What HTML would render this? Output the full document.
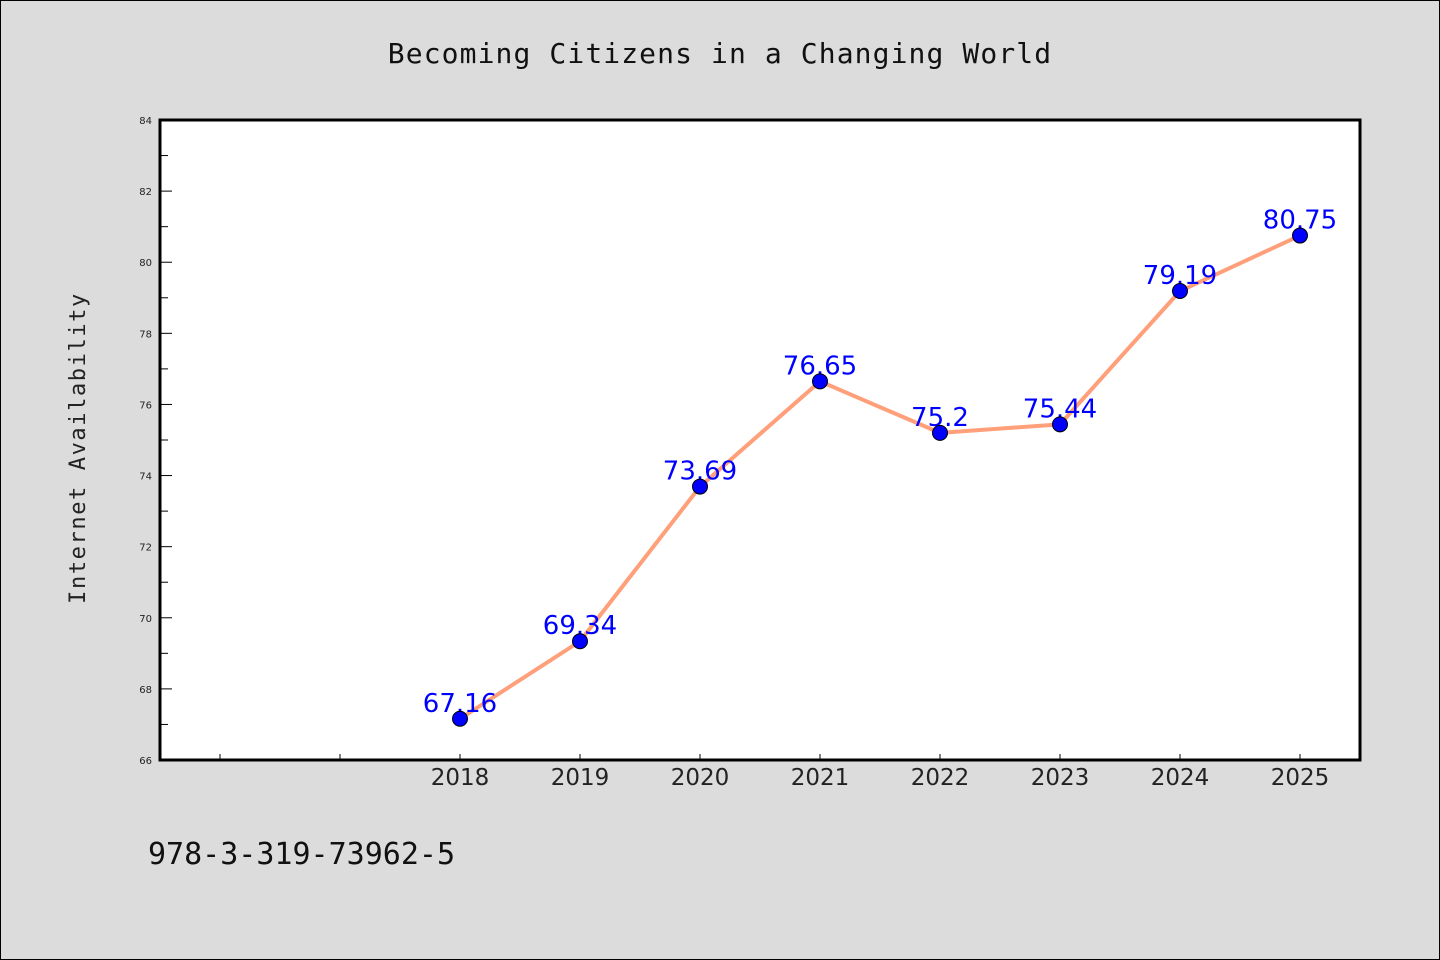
<!DOCTYPE html>
<html><head><meta charset="utf-8"><style>
html,body{margin:0;padding:0;background:#dcdcdc;}
svg{display:block;}
</style></head><body>
<svg id="c" width="1440" height="960" xmlns="http://www.w3.org/2000/svg">
<rect x="0.5" y="0.5" width="1439" height="959" fill="#dcdcdc" stroke="#000" stroke-width="1"/>
<text x="720" y="63" text-anchor="middle" font-family="'WenQuanYi Zen Hei','DejaVu Sans Mono',monospace" font-size="28" letter-spacing="1.1" fill="#111">Becoming Citizens in a Changing World</text>
<rect x="160" y="120" width="1200" height="640" fill="#fff"/>
<g id="axes"></g>
<g id="marks"></g>
<rect x="160" y="120" width="1200" height="640" fill="none" stroke="#000" stroke-width="3"/>
<text transform="translate(85,448) rotate(-90)" text-anchor="middle" font-family="'WenQuanYi Zen Hei','DejaVu Sans Mono',monospace" font-size="22" letter-spacing="1.6" fill="#222">Internet Availability</text>
<text x="148" y="864" font-family="'WenQuanYi Zen Hei','DejaVu Sans Mono',monospace" font-size="30" fill="#111">978-3-319-73962-5</text>
</svg>
<script>
const categories = ["", "", "2018", "2019", "2020", "2021", "2022", "2023", "2024", "2025"];
const values = [null, null, 67.16, 69.34, 73.69, 76.65, 75.2, 75.44, 79.19, 80.75];
const yTicks = [66, 68, 70, 72, 74, 76, 78, 80, 82, 84];
const yMin = 66, yMax = 84;
const L = 160, R = 1360, T = 120, B = 760;
const NS = "http://www.w3.org/2000/svg";
const slot = (R - L) / categories.length;
const xs = i => L + slot * (i + 0.5);
const ys = v => B - (v - yMin) / (yMax - yMin) * (B - T);
function mk(tag, attrs, parent) {
  const e = document.createElementNS(NS, tag);
  for (const k in attrs) e.setAttribute(k, attrs[k]);
  parent.appendChild(e); return e;
}
const axes = document.getElementById('axes');
const marks = document.getElementById('marks');
yTicks.forEach((t, i) => {
  const y = ys(t);
  const ln = mk('line', {x1: L, x2: L + 12, y1: y, y2: y, stroke: '#000', 'stroke-width': 1}, axes);
  
  
  const tx = mk('text', {x: L - 8, y: y + 4, 'text-anchor': 'end', 'font-family': "'DejaVu Sans',sans-serif", 'font-size': 10, fill: '#222'}, axes);
  tx.textContent = t;
  
  
  if (i < yTicks.length - 1) {
    const ym = ys(t + (yTicks[i + 1] - t) / 2);
    const mn = mk('line', {x1: L, x2: L + 8, y1: ym, y2: ym, stroke: '#000', 'stroke-width': 1}, axes);
    
    
  }
});
categories.forEach((c, i) => {
  const x = xs(i);
  const ln = mk('line', {x1: x, x2: x, y1: B, y2: B - 6, stroke: '#000', 'stroke-width': 1}, axes);
  
  
  if (c) {
    const tx = mk('text', {x: x, y: B + 25, 'text-anchor': 'middle', 'font-family': "'DejaVu Sans',sans-serif", 'font-size': 23, fill: '#222'}, axes);
    tx.textContent = c;
    
    
  }
});
const pts = [];
values.forEach((v, i) => { if (v !== null) pts.push([xs(i), ys(v), v]); });
const pl = mk('polyline', {points: pts.map(p => p[0] + ',' + p[1]).join(' '), fill: 'none', stroke: '#ffa07a', 'stroke-width': 4, 'stroke-linejoin': 'round'}, marks);


pts.forEach(p => {
  const t = mk('text', {x: p[0], y: p[1] - 7, 'text-anchor': 'middle', 'font-family': "'DejaVu Sans',sans-serif", 'font-size': 26, fill: '#0000ff'}, marks);
  t.textContent = String(p[2]);
  
  
});
pts.forEach(p => {
  const c = mk('circle', {cx: p[0], cy: p[1], r: 7.5, fill: '#0000ff', stroke: '#000', 'stroke-width': 1}, marks);
  
  
});
</script>
</body></html>
